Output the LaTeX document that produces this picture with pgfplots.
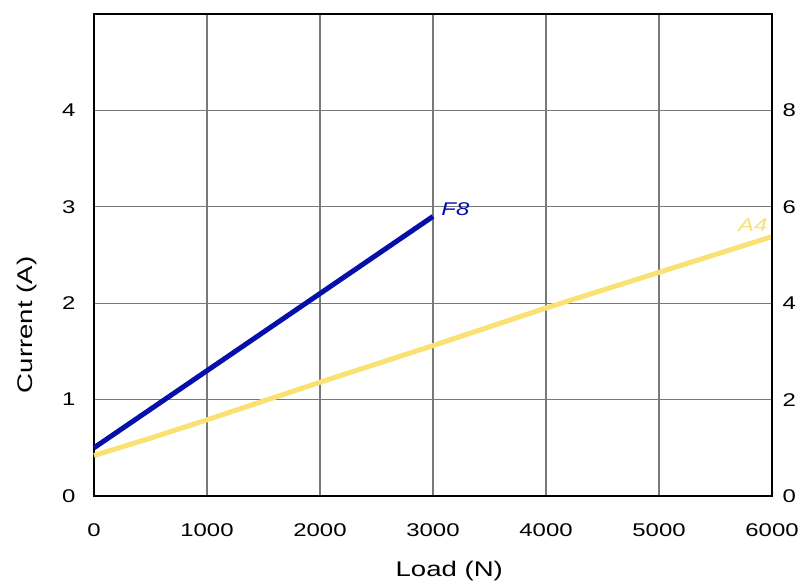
\documentclass[border=0pt]{standalone}
\usepackage{fontspec}
\setmainfont[FakeStretch=1.3]{Liberation Sans}
\usepackage{pgfplots}
\pgfplotsset{compat=1.18}

\definecolor{fblue}{RGB}{5,15,170}
\definecolor{ayellow}{RGB}{250,225,115}
\definecolor{gridgray}{RGB}{120,120,120}

\begin{document}
\fontsize{9.2}{11}\selectfont
\begin{tikzpicture}
\begin{axis}[
  name=main,
  scale only axis,
  width=339pt, height=241pt,
  xmin=0, xmax=6000, ymin=0, ymax=5,
  xtick={0,1000,...,6000},
  ytick={0,1,2,3,4},
  /pgf/number format/set thousands separator={},
  /pgf/number format/assume math mode=true,
  scaled x ticks=false,
  tick style={draw=none},
  axis line style={line width=1.3pt, black},
  grid=major,
  major grid style={gridgray, line width=0.6pt},
  xlabel={Load (N)}, ylabel={Current (A)},
  label style={font=\fontsize{10.6}{12}\selectfont},
  xticklabel style={yshift=-10.5pt},
  yticklabel style={xshift=-6pt},
  xlabel style={at={(axis description cs:0.524,-0.168)}, anchor=base},
  ylabel style={at={(axis description cs:-0.099,0.355)}, anchor=center},
  clip=false,
]
\addplot[fblue, line width=2.5pt] coordinates {
  (0,0.5) (1000,1.3) (2000,2.1) (3000,2.9)
};
\addplot[ayellow, line width=2.5pt] coordinates {
  (0,0.42) (500,0.6) (1000,0.79) (2000,1.18) (3000,1.56)
  (4000,1.95) (5000,2.32) (6000,2.69)
};
\node[anchor=west, text=fblue, font=\itshape, inner sep=2pt, xshift=2pt] at (axis cs:3000,2.98) {F8};
\node[anchor=south east, text=ayellow, font=\itshape, inner sep=1pt] at (axis cs:5980,2.72) {A4};
\end{axis}
\begin{axis}[
  scale only axis,
  width=339pt, height=241pt,
  xmin=0, xmax=6000, ymin=0, ymax=10,
  axis x line=none,
  axis y line*=right,
  ytick={0,2,4,6,8},
  /pgf/number format/assume math mode=true,
  yticklabel style={xshift=2pt},
  tick style={draw=none},
  axis line style={line width=1.3pt, black},
]
\addplot[draw=none] coordinates {(0,0)};
\end{axis}
\pgfresetboundingbox
\path[use as bounding box] ([xshift=-47pt,yshift=-44.5pt]main.south west) rectangle ([xshift=15.5pt,yshift=7pt]main.north east);
\end{tikzpicture}
\end{document}
